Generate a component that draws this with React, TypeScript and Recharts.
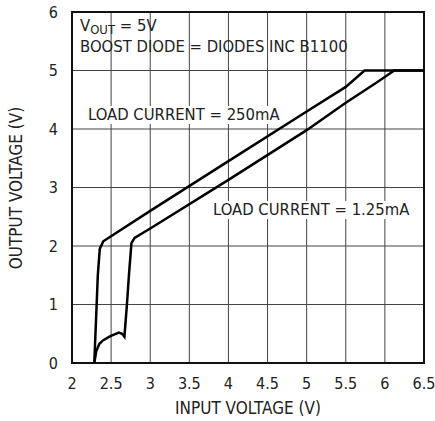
import { LineChart, Line, XAxis, YAxis, CartesianGrid, ReferenceArea } from 'recharts';

const xTicks = [2, 2.5, 3, 3.5, 4, 4.5, 5, 5.5, 6, 6.5];
const yTicks = [0, 1, 2, 3, 4, 5, 6];

// LOAD CURRENT = 250mA
const load250 = [
    { vin: 2.285, vout: 0 },
    { vin: 2.3, vout: 0.5 },
    { vin: 2.315, vout: 1.0 },
    { vin: 2.33, vout: 1.5 },
    { vin: 2.355, vout: 1.95 },
    { vin: 2.4, vout: 2.08 },
    { vin: 3, vout: 2.6 },
    { vin: 4, vout: 3.45 },
    { vin: 5, vout: 4.3 },
    { vin: 5.5, vout: 4.72 },
    { vin: 5.74, vout: 5 },
    { vin: 6.5, vout: 5 },
];

// LOAD CURRENT = 1.25mA
const load125 = [
    { vin: 2.285, vout: 0 },
    { vin: 2.31, vout: 0.2 },
    { vin: 2.35, vout: 0.33 },
    { vin: 2.4, vout: 0.39 },
    { vin: 2.49, vout: 0.46 },
    { vin: 2.6, vout: 0.52 },
    { vin: 2.64, vout: 0.5 },
    { vin: 2.67, vout: 0.45 },
    { vin: 2.7, vout: 0.96 },
    { vin: 2.73, vout: 1.54 },
    { vin: 2.76, vout: 2.05 },
    { vin: 2.8, vout: 2.14 },
    { vin: 3, vout: 2.3 },
    { vin: 4, vout: 3.13 },
    { vin: 5, vout: 3.98 },
    { vin: 5.5, vout: 4.45 },
    { vin: 5.9, vout: 4.8 },
    { vin: 6.12, vout: 5 },
    { vin: 6.5, vout: 5 },
];

const FONT = "'Liberation Sans Narrow', 'DejaVu Sans Condensed', sans-serif";
const tickStyle = { fontFamily: FONT, fontSize: 16, fill: '#222' };

export default function App() {
    return (
        <div style={{ position: 'absolute', left: 0, top: 0, width: 435, height: 421, background: '#fff', fontFamily: FONT, color: '#222' }}>
            <LineChart width={435} height={421} margin={{ top: 12, right: 11, bottom: 28, left: 0 }}>
                <CartesianGrid stroke="#444" strokeWidth={1} />
                <XAxis
                    type="number"
                    dataKey="vin"
                    domain={[2, 6.5]}
                    ticks={xTicks}
                    tickLine={false}
                    axisLine={false}
                    tick={tickStyle}
                    tickMargin={9}
                    height={30}
                    allowDataOverflow
                />
                <YAxis
                    type="number"
                    dataKey="vout"
                    domain={[0, 6]}
                    ticks={yTicks}
                    tickLine={false}
                    axisLine={false}
                    tick={tickStyle}
                    tickMargin={8}
                    width={72}
                />
                <ReferenceArea x1={2} x2={6.5} y1={0} y2={6} fill="none" stroke="#111" strokeWidth={2} ifOverflow="visible" />
                <Line data={load250} dataKey="vout" type="linear" stroke="#000" strokeWidth={2.5} dot={false} isAnimationActive={false} />
                <Line data={load125} dataKey="vout" type="linear" stroke="#000" strokeWidth={2.5} dot={false} isAnimationActive={false} />
            </LineChart>

            <div style={{ position: 'absolute', left: 80, top: 17, fontSize: 16.5, lineHeight: '18px' }}>
                V<sub style={{ fontSize: 13, verticalAlign: -3 }}>OUT</sub> = 5V
            </div>
            <div style={{ position: 'absolute', left: 80, top: 38, fontSize: 16.5, lineHeight: '18px' }}>
                BOOST DIODE = DIODES INC B1100
            </div>
            <div style={{ position: 'absolute', left: 86, top: 106, fontSize: 16.5, lineHeight: '18px', background: '#fff', padding: '0 2px' }}>
                LOAD CURRENT = 250mA
            </div>
            <div style={{ position: 'absolute', left: 211, top: 201, fontSize: 16.5, lineHeight: '18px', background: '#fff', padding: '0 2px' }}>
                LOAD CURRENT = 1.25mA
            </div>
            <div style={{ position: 'absolute', left: 0, top: 399, width: 496, textAlign: 'center', fontSize: 17, lineHeight: '18px' }}>
                INPUT VOLTAGE (V)
            </div>
            <div style={{ position: 'absolute', left: 16, top: 188, width: 0, height: 0 }}>
                <div style={{ position: 'absolute', left: -100, top: -9, width: 200, textAlign: 'center', fontSize: 17, lineHeight: '18px', transform: 'rotate(-90deg)' }}>
                    OUTPUT VOLTAGE (V)
                </div>
            </div>
        </div>
    );
}
